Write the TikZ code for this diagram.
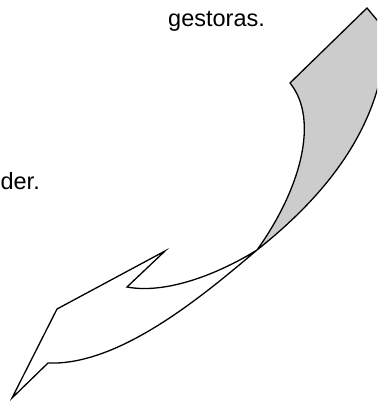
\documentclass[tikz,border=0pt]{standalone}
\usepackage{fontspec}
\setmainfont{Liberation Sans}
\definecolor{shadegray}{RGB}{204,204,204}
\tikzset{
  outline/.style={draw=black, line width=1.3pt, line join=miter},
  lbl/.style={inner sep=0pt, font=\fontsize{23.5}{27}\selectfont},
}
\begin{document}
\begin{tikzpicture}[x=1pt,y=-1pt]
\useasboundingbox (0,0) rectangle (377,401);
\clip (0,0) rectangle (377,401);
% key points
\coordinate (T) at (12,398);
\coordinate (P1) at (57,309);
\coordinate (P2) at (165,251);
\coordinate (N) at (127,287);
\coordinate (X) at (257,250);
\coordinate (B) at (290,83);
\coordinate (A) at (367,8);
\coordinate (A2) at (392,38);
\coordinate (R0) at (383,65);
\coordinate (Q) at (48,363);
% gray back face
\fill[shadegray] (A) -- (B) .. controls (320,120) and (300,190) .. (X)
  .. controls (320,200) and (370,140) .. (R0) -- (A2) -- cycle;
% outline
\draw[outline] (T) -- (P1) -- (P2) -- (N)
  .. controls (170,295) and (225,270) .. (X)
  .. controls (300,190) and (320,120) .. (B)
  -- (A) -- (A2) -- (R0)
  .. controls (370,140) and (320,200) .. (X)
  .. controls (205,294) and (120,366) .. (Q) -- cycle;
% texts
\node[lbl, anchor=base west] (t1) at (168,27) {gestoras.};
\node[lbl, anchor=base east] (t2) at (40,189) {der.};
\end{tikzpicture}
\end{document}
